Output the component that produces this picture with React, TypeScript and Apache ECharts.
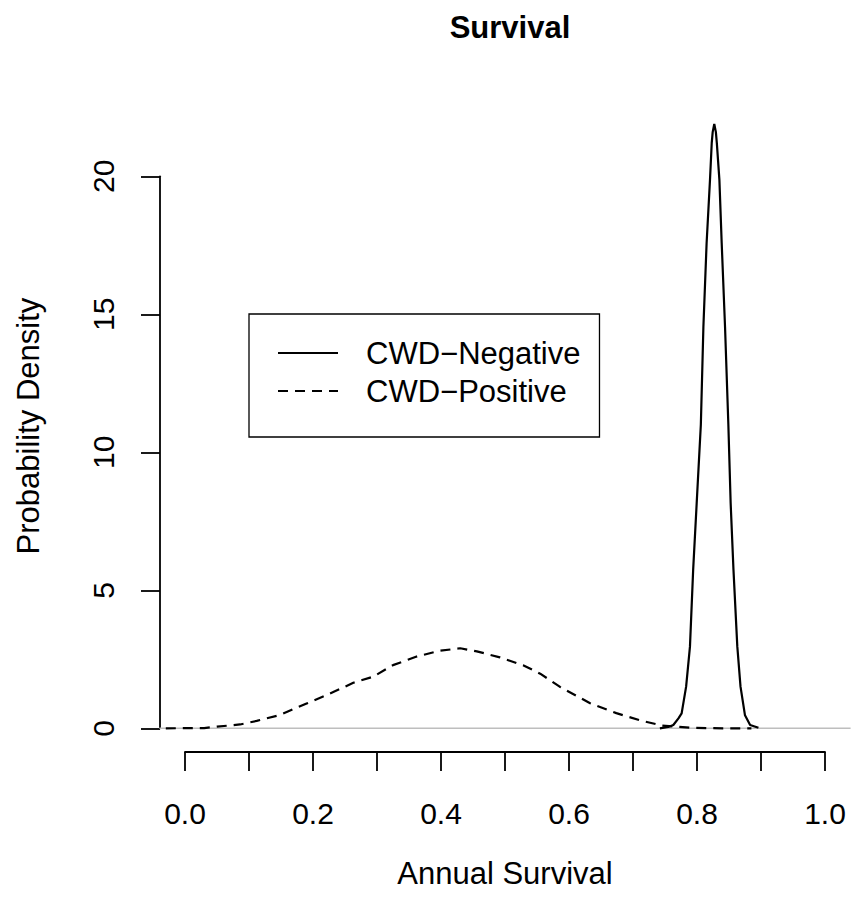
import React, { useEffect, useRef } from "react";
import * as echarts from "echarts";

// CWD-Negative density (annual survival)
const negX = [0.742, 0.755, 0.763, 0.771, 0.776, 0.783, 0.789, 0.794, 0.7995, 0.806, 0.81, 0.815, 0.8203, 0.823, 0.8245, 0.827, 0.8295, 0.831, 0.835, 0.8386, 0.8438, 0.849, 0.8526, 0.857, 0.863, 0.868, 0.875, 0.883, 0.896];
const negY = [0.0, 0.05, 0.12, 0.36, 0.54, 1.51, 2.96, 5.74, 8.15, 11.0, 14.55, 17.57, 19.87, 21.2, 21.6, 21.9, 21.6, 21.2, 19.87, 17.57, 14.55, 11.0, 8.15, 5.74, 2.96, 1.51, 0.47, 0.12, 0.02];

// CWD-Positive density
const posX = [-0.03, 0.03, 0.05, 0.086, 0.112, 0.148, 0.19, 0.221, 0.263, 0.294, 0.325, 0.362, 0.398, 0.43, 0.456, 0.492, 0.529, 0.555, 0.586, 0.633, 0.674, 0.711, 0.745, 0.79, 0.84, 0.885];
const posY = [0.0, 0.01, 0.06, 0.14, 0.27, 0.48, 0.9, 1.2, 1.65, 1.87, 2.29, 2.6, 2.81, 2.9, 2.79, 2.57, 2.28, 1.98, 1.5, 0.91, 0.55, 0.29, 0.1, 0.02, 0.0, 0.0];

const seriesNames = ["CWD\u2212Negative", "CWD\u2212Positive"];
const baseline = [[-0.04, 0], [1.04, 0]];

const FONT = "Liberation Sans, Arial, Helvetica, sans-serif";

export default function App() {
  const ref = useRef<HTMLDivElement>(null);
  useEffect(() => {
    document.body.style.margin = "0";
    if (!ref.current) return;
    const chart = echarts.init(ref.current, undefined, { renderer: "svg" });
    const negData = negX.map((x, i) => [x, negY[i]]);
    const posData = posX.map((x, i) => [x, posY[i]]);
    const axisLineStyle = { color: "#000", width: 1.8 };
    chart.setOption({
      animation: false,
      backgroundColor: "#fff",
      title: {
        text: "Survival",
        left: 505,
        top: 7,
        textAlign: "center",
        textStyle: { fontFamily: FONT, fontWeight: "bold", fontSize: 31, color: "#000" },
      },
      grid: [
        { left: 159.4, right: 0.4, top: 99.7, bottom: 150.5 },
        { left: 185, right: 26, top: 176.3, bottom: 174.7 },
      ],
      legend: {
        orient: "vertical",
        left: 249,
        top: 314,
        data: seriesNames,
        itemWidth: 60,
        itemHeight: 14,
        itemGap: 7,
        borderColor: "#000",
        borderWidth: 1.3,
        padding: [23.5, 19, 30.5, 28],
        selectedMode: false,
        itemStyle: { color: "rgba(0,0,0,0)", borderWidth: 0, opacity: 0 },
        textStyle: { fontFamily: FONT, fontSize: 31, color: "#000", lineHeight: 31, padding: [0, 0, 0, 23] },
      },
      xAxis: [
        {
          gridIndex: 0,
          type: "value",
          min: -0.04,
          max: 1.04,
          axisLine: { show: false, onZero: false },
          axisTick: { show: false },
          axisLabel: { show: false },
          splitLine: { show: false },
          name: "Annual Survival",
          nameLocation: "middle",
          nameGap: 105,
          nameTextStyle: { fontFamily: FONT, fontSize: 31, color: "#000", lineHeight: 31 },
        },
        {
          gridIndex: 1,
          type: "value",
          min: 0,
          max: 1,
          interval: 0.1,
          offset: 23.7,
          axisLine: { show: true, onZero: false, lineStyle: axisLineStyle },
          axisTick: { show: true, length: 19, lineStyle: axisLineStyle },
          axisLabel: {
            margin: 45.5,
            fontFamily: FONT,
            fontSize: 30,
            color: "#000",
            lineHeight: 31,
            formatter: (v: number) => (Math.round(v * 10) % 2 === 0 ? v.toFixed(1) : ""),
          },
          splitLine: { show: false },
        },
      ],
      yAxis: [
        {
          gridIndex: 0,
          type: "value",
          min: -0.876,
          max: 22.776,
          axisLine: { show: false, onZero: false },
          axisTick: { show: false },
          axisLabel: { show: false },
          splitLine: { show: false },
          name: "Probability Density",
          nameLocation: "middle",
          nameRotate: 90,
          nameGap: 115,
          nameTextStyle: { fontFamily: FONT, fontSize: 31, color: "#000", lineHeight: 31 },
        },
        {
          gridIndex: 1,
          type: "value",
          min: 0,
          max: 20,
          interval: 5,
          offset: 25,
          axisLine: { show: true, onZero: false, lineStyle: axisLineStyle },
          axisTick: { show: true, length: 19, lineStyle: axisLineStyle },
          axisLabel: {
            rotate: 90,
            margin: 41,
            fontFamily: FONT,
            fontSize: 30,
            color: "#000",
            lineHeight: 31,
          },
          splitLine: { show: false },
        },
      ],
      series: [
        {
          name: "baseline",
          type: "line",
          xAxisIndex: 0,
          yAxisIndex: 0,
          data: baseline,
          symbol: "none",
          silent: true,
          z: 1,
          lineStyle: { color: "#bebebe", width: 1.5 },
        },
        {
          name: seriesNames[0],
          type: "line",
          xAxisIndex: 0,
          yAxisIndex: 0,
          data: negData,
          symbol: "none",
          clip: false,
          z: 3,
          color: "#000",
          lineStyle: { color: "#000", width: 2.2, type: "solid" },
        },
        {
          name: seriesNames[1],
          type: "line",
          xAxisIndex: 0,
          yAxisIndex: 0,
          data: posData,
          symbol: "none",
          clip: false,
          z: 2,
          color: "#000",
          lineStyle: { color: "#000", width: 2.2, type: [10, 7] },
        },
      ],
    });
    return () => chart.dispose();
  }, []);
  return <div ref={ref} style={{ position: "absolute", left: 0, top: 0, width: 851, height: 903 }} />;
}
